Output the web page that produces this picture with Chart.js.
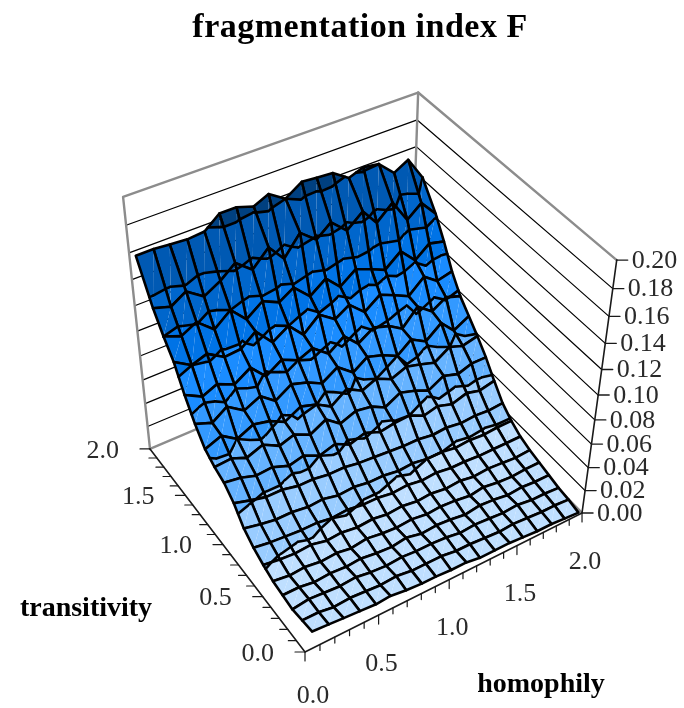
<!DOCTYPE html>
<html>
<head>
<meta charset="utf-8">
<script src="https://cdn.jsdelivr.net/npm/chart.js@4"></script>
<style>
html, body { margin: 0; padding: 0; background: #fff; }
#wrap { width: 684px; height: 708px; }
</style>
</head>
<body>
<div id="wrap"><canvas id="surface" width="684" height="708"></canvas></div>
<script>
// axis ticks
const homophilyTicks = [0, 0.5, 1, 1.5, 2];
const transitivityTicks = [0, 0.5, 1, 1.5, 2];
const fragmentationTicks = [0, 0.02, 0.04, 0.06, 0.08, 0.1, 0.12, 0.14, 0.16, 0.18, 0.2];
const minorSteps = [0, 0.1, 0.2, 0.3, 0.4, 0.5, 0.6, 0.7, 0.8, 0.9, 1, 1.1, 1.2, 1.3, 1.4, 1.5, 1.6, 1.7, 1.8, 1.9, 2];

// where the surface samples sit on the two floor axes
const homophily = [0.05, 0.16, 0.26, 0.37, 0.48, 0.58, 0.69, 0.8, 0.9, 1.01, 1.12, 1.22, 1.33, 1.44, 1.54, 1.65, 1.76, 1.86, 1.97];
const transitivity = [0, 0.11, 0.22, 0.33, 0.44, 0.55, 0.66, 0.77, 0.88, 0.99, 1.1, 1.21, 1.32, 1.43, 1.54, 1.65, 1.76, 1.93];

// fragmentation index, one row per transitivity
const fragmentation = [
  [.015,.014,.013,.012,.011,.012,.010,.009,.009,.008,.008,.006,.006,.006,.005,.004,.004,.003,.002],
  [.014,.014,.012,.013,.012,.011,.012,.010,.010,.010,.008,.008,.007,.006,.007,.006,.005,.005,.004],
  [.013,.015,.014,.013,.014,.012,.011,.012,.011,.011,.010,.008,.009,.008,.007,.008,.006,.006,.005],
  [.015,.015,.013,.014,.013,.014,.012,.011,.013,.010,.011,.010,.008,.010,.009,.007,.008,.007,.007],
  [.017,.015,.016,.014,.015,.013,.015,.013,.012,.013,.011,.012,.011,.009,.011,.009,.008,.009,.009],
  [.021,.019,.018,.019,.016,.017,.015,.016,.014,.015,.013,.014,.012,.013,.011,.012,.011,.010,.011],
  [.026,.024,.023,.022,.022,.020,.021,.019,.019,.017,.018,.016,.017,.015,.015,.014,.014,.014,.014],
  [.033,.030,.028,.028,.026,.027,.024,.025,.023,.023,.021,.022,.020,.020,.018,.019,.018,.019,.019],
  [.045,.041,.038,.038,.035,.035,.033,.033,.031,.030,.029,.028,.028,.026,.027,.025,.026,.025,.026],
  [.053,.051,.047,.048,.043,.046,.040,.044,.038,.042,.037,.039,.040,.034,.037,.033,.037,.034,.037],
  [.057,.058,.053,.058,.051,.055,.049,.056,.047,.052,.050,.044,.051,.047,.042,.049,.045,.049,.049],
  [.063,.068,.060,.066,.063,.057,.064,.060,.053,.062,.055,.060,.054,.059,.056,.052,.060,.056,.059],
  [.075,.070,.078,.069,.075,.066,.074,.070,.064,.072,.062,.070,.066,.060,.069,.062,.072,.061,.068],
  [.090,.083,.088,.082,.090,.078,.086,.080,.085,.075,.084,.073,.081,.077,.070,.083,.074,.081,.077],
  [.108,.100,.104,.096,.097,.106,.092,.100,.088,.099,.090,.097,.086,.095,.090,.084,.095,.087,.090],
  [.120,.115,.121,.110,.120,.108,.117,.111,.118,.106,.115,.104,.113,.108,.103,.113,.101,.110,.107],
  [.134,.130,.137,.128,.135,.144,.134,.146,.133,.148,.138,.147,.136,.146,.133,.144,.126,.135,.122],
  [.162,.162,.161,.160,.161,.170,.170,.166,.171,.163,.171,.170,.169,.161,.165,.163,.152,.158,.140]
];

// colour bands of the surface, light to dark
const bandLevels = [0, 0.02, 0.04, 0.06, 0.08, 0.1, 0.12, 0.14, 0.163, 0.2];
const bandColors = ['#bfdfff', '#99ccff', '#66b3ff', '#3399ff', '#1a8cff', '#0073e6', '#0066cc', '#0059b3', '#004080'];

// perspective of the box: h, t and z vanishing points seen from the front corner
function project(h, t, z) {
  const u = h / 2, v = t / 2, w = z / 0.2;
  const d = 1 + 0.0857 * u + 0.124 * v - 0.1376 * w;
  return {
    x: (326.9 * u - 136.4 * v - 47.2 * w + 305) / d,
    y: (-95.1 * u - 147.4 * v - 310.3 * w + 652) / d
  };
}
function projectSample(s) {
  return project(s.h, s.t, s.z);
}

const datasets = [];
function addLine(points, color, width) {
  datasets.push({ data: points, borderColor: color, borderWidth: width, showLine: true, pointRadius: 0, fill: false, clip: false, borderCapStyle: 'round', borderJoinStyle: 'round' });
}
function addPatch(points, color) {
  datasets.push({ data: points, backgroundColor: color, borderColor: color, borderWidth: 0, showLine: true, pointRadius: 0, fill: 'shape', clip: false });
}
function shift(p, dx, dy) {
  return { x: p.x + dx, y: p.y + dy };
}

function crossing(a, b, level) {
  const f = (level - a.z) / (b.z - a.z);
  return { h: a.h + (b.h - a.h) * f, t: a.t + (b.t - a.t) * f, z: level };
}
// keeps the part of a polygon above (sign 1) or below (sign -1) a level
function clipAt(poly, level, sign) {
  const out = [];
  poly.forEach(function (a, i) {
    const b = poly[(i + 1) % poly.length];
    const aIn = sign * (a.z - level) >= 0, bIn = sign * (b.z - level) >= 0;
    if (aIn) out.push(a);
    if (aIn !== bIn) out.push(crossing(a, b, level));
  });
  return out;
}
// band patches and contour lines of one triangle of the grid
function addTriangle(tri) {
  bandLevels.forEach(function (level) {
    const hits = [];
    tri.forEach(function (a, i) {
      const b = tri[(i + 1) % 3];
      if ((a.z < level) !== (b.z < level)) hits.push(crossing(a, b, level));
    });
    if (hits.length === 2) addLine(hits.map(projectSample), '#000', 2.6);
  });
  bandColors.forEach(function (color, n) {
    let poly = clipAt(tri, bandLevels[n], 1);
    if (poly.length) poly = clipAt(poly, bandLevels[n + 1], -1);
    if (poly.length >= 3) addPatch(poly.map(projectSample), color);
  });
}

// Chart.js paints the first dataset on top, so push front to back.
// axes and ticks first
addLine([project(0, 2, 0), project(0, 0, 0), project(2, 0, 0), project(2, 0, 0.2)], '#1a1a1a', 1.6);
minorSteps.forEach(function (s) {
  const major = homophilyTicks.indexOf(s) >= 0;
  addLine([project(s, 0, 0), shift(project(s, 0, 0), 0, major ? 9 : 6)], '#1a1a1a', 1.2);
  addLine([project(0, s, 0), shift(project(0, s, 0), major ? -10 : -8, 0)], '#1a1a1a', 1.2);
});
fragmentationTicks.forEach(function (z) {
  addLine([project(2, 0, z), shift(project(2, 0, z), 11, 0)], '#1a1a1a', 1.4);
});

// surface, front row first; the rows fan out a little towards the back
function sample(i, k) {
  const spread = 1 + 0.04 * transitivity[k] / 1.88;
  return { h: 1 + (homophily[i] - 1) * spread, t: transitivity[k], z: fragmentation[k][i] };
}
for (let k = 0; k < fragmentation.length - 1; k++) {
  for (let i = 0; i < homophily.length - 1; i++) {
    const a = sample(i, k), b = sample(i + 1, k), c = sample(i + 1, k + 1), d = sample(i, k + 1);
    addLine([a, b, c, d, a].map(projectSample), '#000', 2.6);
    addTriangle([a, b, c]);
    addTriangle([a, c, d]);
  }
}

// back walls last, so they end up underneath
addLine([project(0, 2, 0), project(0, 2, 0.2), project(2, 2, 0.2), project(2, 0, 0.2)], '#8c8c8c', 2.4);
addLine([project(2, 2, 0), project(2, 2, 0.2)], '#8c8c8c', 2.4);
addLine([project(0, 2, 0), project(2, 2, 0), project(2, 0, 0)], '#8c8c8c', 2.4);
fragmentationTicks.slice(1, -1).forEach(function (z) {
  addLine([project(0, 2, z), project(2, 2, z), project(2, 0, z)], '#000', 1.2);
});

// all the text goes on at the end
const textPlugin = {
  id: 'surfaceText',
  afterDraw(chart) {
    const c = chart.ctx;
    c.save();
    c.fillStyle = '#2a2a2a';
    c.textBaseline = 'middle';
    c.font = '26px "Liberation Serif"';
    c.textAlign = 'left';
    fragmentationTicks.forEach(function (z) {
      const p = project(2, 0, z);
      c.fillText(z.toFixed(2), p.x + 15, p.y + 1);
    });
    c.textAlign = 'right';
    transitivityTicks.forEach(function (t) {
      const p = project(0, t, 0);
      c.fillText(t.toFixed(1), p.x - 31, p.y + 2);
    });
    c.textAlign = 'center';
    homophilyTicks.forEach(function (h) {
      const p = project(h, 0, 0);
      if (h === 0) c.fillText(h.toFixed(1), p.x + 8, p.y + 44);
      else c.fillText(h.toFixed(1), p.x + 3, p.y + 49);
    });
    c.fillStyle = '#000';
    c.font = 'bold 34px "Liberation Serif"';
    c.letterSpacing = '0.5px';
    c.fillText('fragmentation index F', 360, 28);
    c.letterSpacing = '0px';
    c.font = 'bold 28px "Liberation Serif"';
    c.fillText('transitivity', 86, 609);
    c.fillText('homophily', 541, 685);
    c.restore();
  }
};

new Chart(document.getElementById('surface'), {
  type: 'scatter',
  data: { datasets: datasets },
  plugins: [textPlugin],
  options: {
    responsive: false,
    animation: false,
    events: [],
    layout: { padding: 0 },
    plugins: { legend: { display: false }, title: { display: false }, tooltip: { enabled: false } },
    scales: {
      x: { type: 'linear', min: 0, max: 684, display: false },
      y: { type: 'linear', min: 0, max: 708, reverse: true, display: false }
    }
  }
});
</script>
</body>
</html>
